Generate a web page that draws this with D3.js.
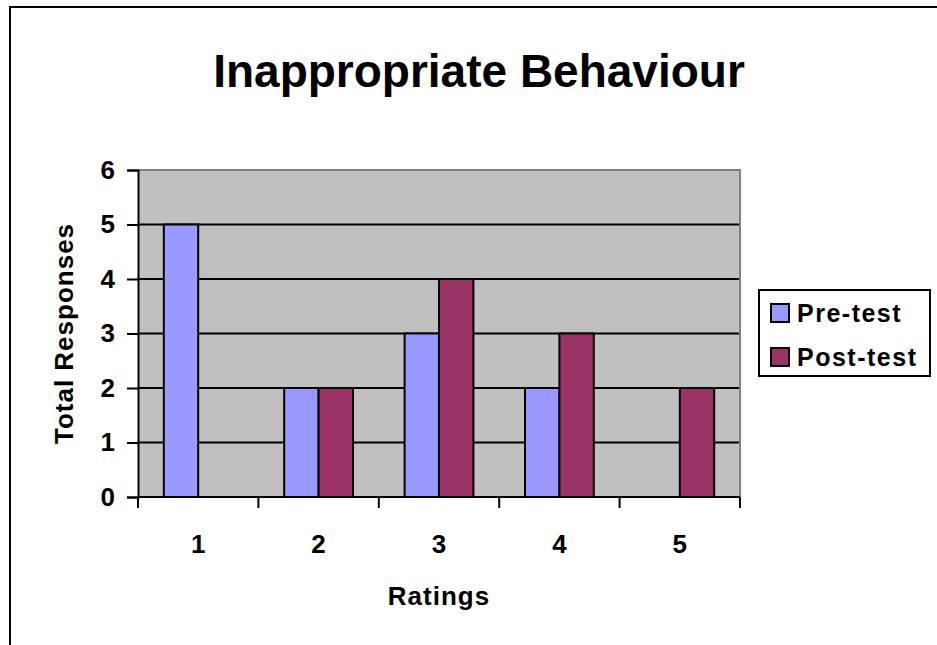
<!DOCTYPE html>
<html>
<head>
<meta charset="utf-8">
<script src="https://cdn.jsdelivr.net/npm/d3@7"></script>
<style>
  html, body { margin: 0; padding: 0; background: #fff; }
  svg { display: block; font-family: Arial, "Liberation Sans", sans-serif; font-weight: bold; }
</style>
</head>
<body>
<svg id="chart" width="937" height="645"></svg>
<script>
// Chart data
const categories = ["1", "2", "3", "4", "5"];
const seriesNames = ["Pre-test", "Post-test"];
const preTest = [5, 2, 3, 2, 0];
const postTest = [0, 2, 4, 3, 2];
const yTicks = [0, 1, 2, 3, 4, 5, 6];
const seriesColors = ["#9999FF", "#993366"];

const svg = d3.select("#chart");

// Outer chart frame (runs past the right and bottom edges)
svg.append("rect")
  .attr("x", 10).attr("y", 7)
  .attr("width", 1000).attr("height", 700)
  .attr("fill", "#fff").attr("stroke", "#000").attr("stroke-width", 2);

const plot = { left: 138, right: 740, top: 170, bottom: 497 };

const x0 = d3.scaleBand().domain(categories).range([plot.left, plot.right]).padding(0);
const x1 = d3.scaleBand().domain(seriesNames).range([0, x0.bandwidth()])
  .paddingInner(0).paddingOuter(0.75);
const y = d3.scaleLinear().domain([0, 6]).range([plot.bottom, plot.top]);

// Plot background
svg.append("rect")
  .attr("x", plot.left).attr("y", plot.top)
  .attr("width", plot.right - plot.left).attr("height", plot.bottom - plot.top)
  .attr("fill", "#C0C0C0");

// Horizontal gridlines
svg.append("g").selectAll("line")
  .data(yTicks.filter(v => v > 0 && v < 6))
  .join("line")
  .attr("x1", plot.left).attr("x2", plot.right)
  .attr("y1", d => y(d)).attr("y2", d => y(d))
  .attr("stroke", "#000").attr("stroke-width", 2);

// Top and right plot border
svg.append("path")
  .attr("d", `M${plot.left},${y(6)}H${plot.right}V${plot.bottom}`)
  .attr("fill", "none").attr("stroke", "#808080").attr("stroke-width", 2);

// Bars
const rows = categories.map((c, i) => ({ cat: c, values: [preTest[i], postTest[i]] }));
const groups = svg.append("g").selectAll("g")
  .data(rows).join("g")
  .attr("transform", d => `translate(${x0(d.cat)},0)`);
groups.selectAll("rect")
  .data(d => d.values.map((v, j) => ({ name: seriesNames[j], v, j })).filter(e => e.v > 0))
  .join("rect")
  .attr("x", e => x1(e.name))
  .attr("width", x1.bandwidth())
  .attr("y", e => y(e.v))
  .attr("height", e => y(0) - y(e.v))
  .attr("fill", e => seriesColors[e.j])
  .attr("stroke", "#000").attr("stroke-width", 2);

// Y axis
const yAxis = svg.append("g")
  .attr("transform", `translate(${plot.left},0)`)
  .call(d3.axisLeft(y).tickValues(yTicks).tickSize(11).tickPadding(12).tickFormat(d3.format("d")));
yAxis.select(".domain").attr("stroke", "#000").attr("stroke-width", 2);
yAxis.selectAll(".tick line").attr("stroke", "#000").attr("stroke-width", 2);
yAxis.selectAll(".tick text")
  .attr("font-size", 26).attr("font-weight", "bold").attr("fill", "#000")
  .attr("font-family", "Arial, 'Liberation Sans', sans-serif");

// X axis (ticks at category boundaries)
const xAxisG = svg.append("g").attr("transform", `translate(0,${plot.bottom})`);
xAxisG.append("line")
  .attr("x1", plot.left).attr("x2", plot.right)
  .attr("stroke", "#000").attr("stroke-width", 2);
const boundaries = categories.map(c => x0(c)).concat([x0(categories[categories.length - 1]) + x0.bandwidth()]);
xAxisG.selectAll("line.tk").data(boundaries).join("line")
  .attr("class", "tk")
  .attr("x1", d => d).attr("x2", d => d)
  .attr("y1", 0).attr("y2", 11)
  .attr("stroke", "#000").attr("stroke-width", 2);
xAxisG.selectAll("text").data(categories).join("text")
  .attr("x", d => x0(d) + x0.bandwidth() / 2)
  .attr("y", 56)
  .attr("text-anchor", "middle")
  .attr("font-size", 26)
  .text(d => d);

// Title
svg.append("text")
  .attr("x", 479).attr("y", 87)
  .attr("text-anchor", "middle")
  .attr("font-size", 46)
  .text("Inappropriate Behaviour");

// Axis titles
svg.append("text")
  .attr("x", (plot.left + plot.right) / 2).attr("y", 605)
  .attr("text-anchor", "middle")
  .attr("font-size", 26).attr("letter-spacing", 1)
  .text("Ratings");

svg.append("text")
  .attr("transform", `translate(73,${(plot.top + plot.bottom) / 2}) rotate(-90)`)
  .attr("text-anchor", "middle")
  .attr("font-size", 26).attr("letter-spacing", 1)
  .text("Total Responses");

// Legend
const legend = svg.append("g");
legend.append("rect")
  .attr("x", 759).attr("y", 290).attr("width", 171).attr("height", 86)
  .attr("fill", "#fff").attr("stroke", "#000").attr("stroke-width", 2);
const items = legend.selectAll("g.item").data(seriesNames).join("g")
  .attr("class", "item")
  .attr("transform", (d, i) => `translate(771,${304 + i * 44})`);
items.append("rect")
  .attr("width", 18).attr("height", 18)
  .attr("fill", (d, i) => seriesColors[i])
  .attr("stroke", "#000").attr("stroke-width", 2);
items.append("text")
  .attr("x", 26).attr("y", 18)
  .attr("font-size", 25).attr("letter-spacing", 1.5)
  .text(d => d);
</script>
</body>
</html>
